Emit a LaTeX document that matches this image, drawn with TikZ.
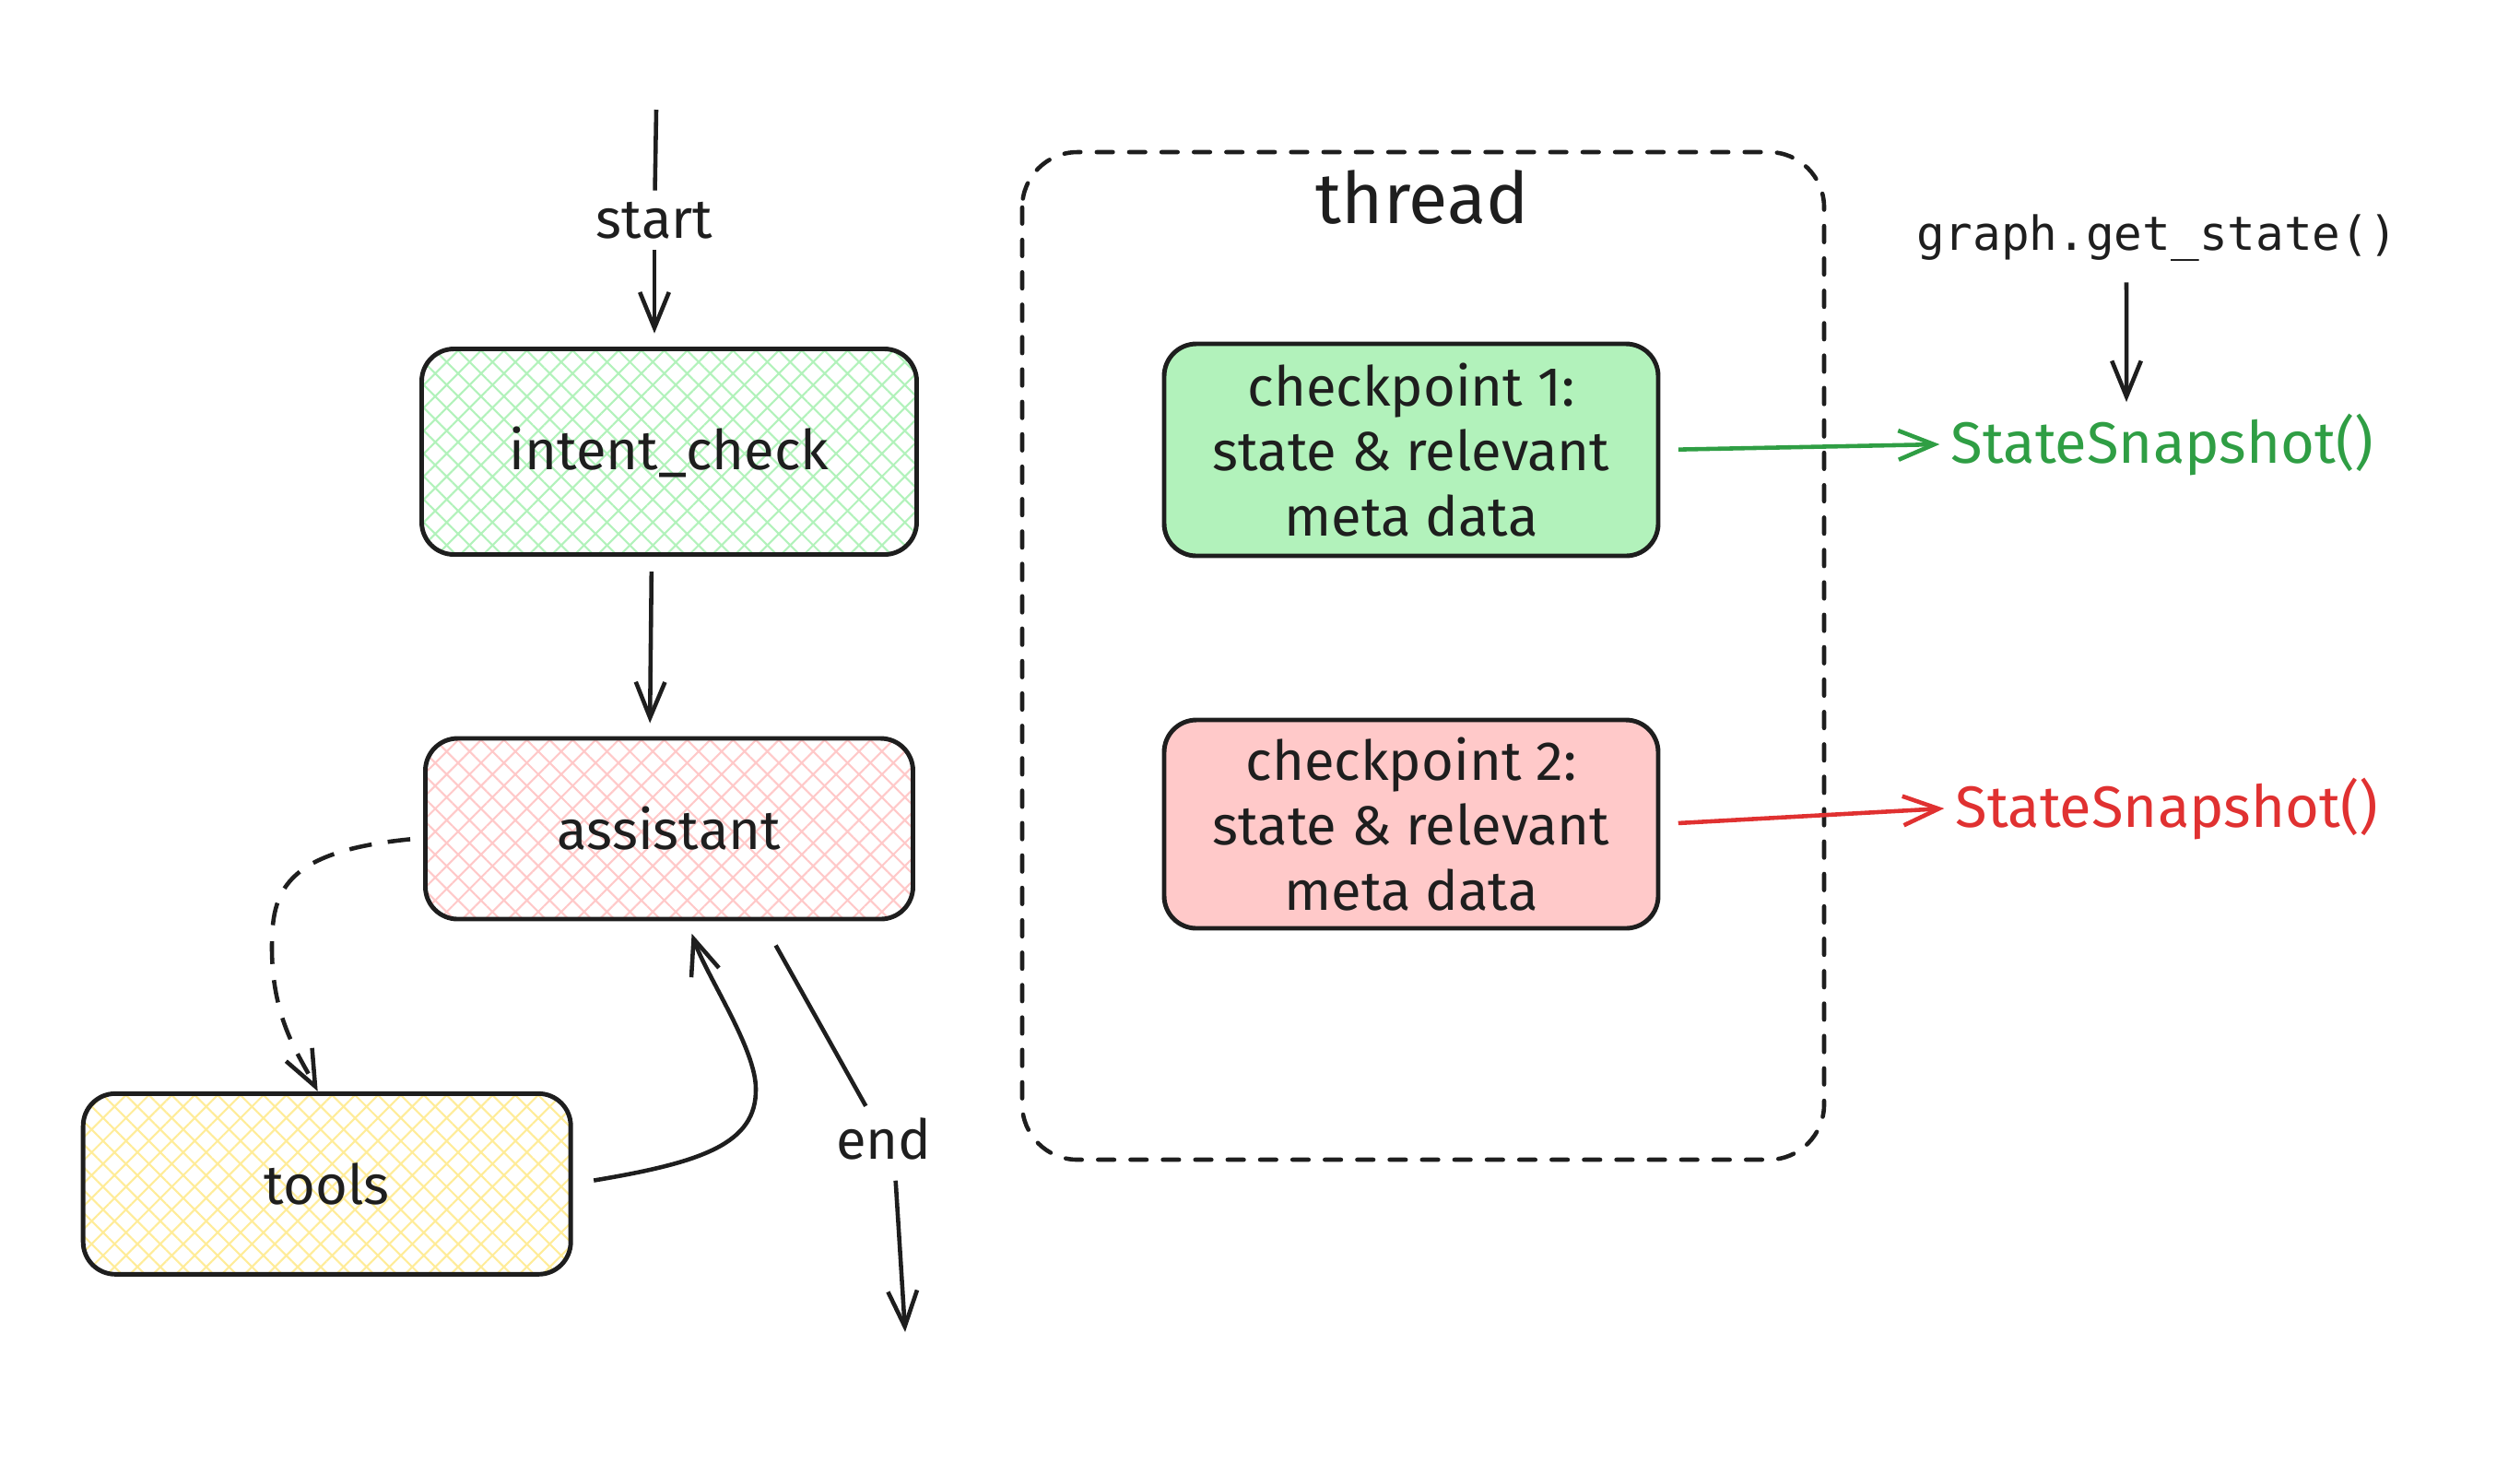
\documentclass[tikz,border=0pt]{standalone}
\usepackage{fontspec}
\setmainfont{Fira Sans}
\setmonofont{DejaVu Sans Mono}
\usetikzlibrary{arrows.meta,patterns.meta}

\definecolor{ink}{HTML}{1E1E1E}
\definecolor{hatchgreen}{HTML}{B2F2BB}
\definecolor{hatchred}{HTML}{FFC9C9}
\definecolor{hatchyellow}{HTML}{FFEC99}
\definecolor{cpgreen}{HTML}{B2F2BB}
\definecolor{cpred}{HTML}{FFC9C9}
\definecolor{snapgreen}{HTML}{2F9E44}
\definecolor{snapred}{HTML}{E03131}

\begin{document}
\begin{tikzpicture}[->, >={Straight Barb[length=11pt,width=9pt]}, node distance=4.09cm,
  every node/.style={font=\fontsize{17}{20}\selectfont, text=ink},
  nodebox/.style={draw=ink, line width=1.4pt, rounded corners=0.35cm, align=center,
                  minimum width=5.29cm, minimum height=1.96cm},
  greenhatch/.style={pattern={Hatch[angle=45,distance=5pt,line width=0.6pt]}, pattern color=hatchgreen},
  redhatch/.style={pattern={Hatch[angle=45,distance=5pt,line width=0.6pt]}, pattern color=hatchred},
  yellowhatch/.style={pattern={Hatch[angle=45,distance=5pt,line width=0.6pt]}, pattern color=hatchyellow},
  link/.style={draw=ink, line width=1.3pt},
  snaptext/.style={font=\fontsize{18}{22}\selectfont},
  threadframe/.style={-, draw=ink, line width=1.3pt, line cap=round, dash pattern=on 5pt off 5pt, rounded corners=0.6cm}]

  \useasboundingbox (0,0) rectangle (27.34,-15.98);

  % graph
  \node[nodebox,greenhatch,minimum width=5.37cm,minimum height=2.23cm] (intent) at (7.26,-4.90) {intent\_check};
  \node[nodebox,redhatch]    (assistant) [below of=intent]                         {assistant};
  \node[nodebox,yellowhatch] (tools)     [below left of=assistant, node distance=5.35cm, xshift=0.07cm, yshift=-0.07cm] {tools};
  \node                      (start)     [above of=intent, node distance=2.51cm, xshift=-0.16cm] {start};
  \node                      (endlbl)    at (9.59,-12.35)                          {end};
  \coordinate                (entry)     at (7.12,-1.19);
  \coordinate                (exit)      at (9.82,-14.45);

  \draw[link,-] (entry) -- (start);
  \draw[link,shorten >=4.5pt] (start) -- (start |- intent.north);
  \draw[link,shorten <=5pt,shorten >=4pt] ([xshift=-0.19cm]intent.south) -- ([xshift=-0.21cm]assistant.north);
  \draw[link,dash pattern=on 7pt off 5pt,shorten <=4pt] ([yshift=-0.1cm]assistant.west)
        .. controls (3.06,-9.24) and (2.95,-9.69) .. (2.95,-10.28)
        .. controls (2.95,-11.07) and (3.26,-11.47) .. ([xshift=-0.1cm]tools.north);
  \draw[link,shorten <=6.5pt,shorten >=4pt] (tools.east)
        .. controls (7.61,-12.61) and (8.21,-12.41) .. (8.20,-11.81)
        .. controls (8.20,-11.37) and (7.66,-10.58) .. ([xshift=0.2cm]assistant.south);
  \draw[link,-,shorten <=8.5pt] ([xshift=1.01cm]assistant.south) -- (endlbl);
  \draw[link,shorten <=3pt] ([xshift=0.12cm]endlbl.south) -- (exit);

  % thread
  \draw[threadframe] (11.09,-1.65) rectangle (19.79,-12.58);
  \node[nodebox,fill=cpgreen,minimum width=5.36cm,minimum height=2.30cm] (cp1) at (15.31,-4.88)
        {checkpoint 1:\\ state \& relevant\\ meta data};
  \node[nodebox,fill=cpred,minimum width=5.36cm,minimum height=2.26cm] (cp2) [below of=cp1, node distance=4.06cm]
        {checkpoint 2:\\ state \& relevant\\ meta data};
  \node[font=\fontsize{22}{26}\selectfont] (thread) [above of=cp1, node distance=2.74cm, xshift=0.12cm] {thread};

  % snapshots
  \node[font=\fontsize{14.5}{18}\ttfamily] (getstate) at (23.40,-2.58) {graph.get\_state()};
  \node[snaptext,text=snapgreen] (snap1) at (23.46,-4.82) {StateSnapshot()};
  \node[snaptext,text=snapred]   (snap2) at (23.51,-8.77) {StateSnapshot()};

  \draw[link,shorten <=3pt] ([xshift=-0.33cm]getstate.south) -- ([xshift=-0.39cm]snap1.north);
  \draw[link,draw=snapgreen,shorten <=5.5pt] (cp1.east) -- (snap1.west);
  \draw[link,draw=snapred,shorten <=5.5pt] (cp2.east) -- (snap2.west);
\end{tikzpicture}
\end{document}
